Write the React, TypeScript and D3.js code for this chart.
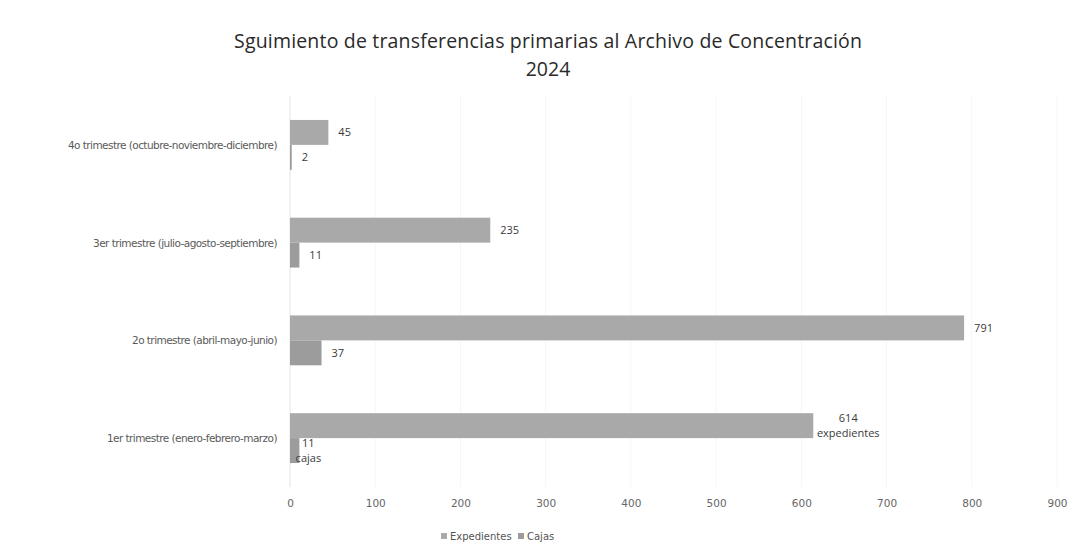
import * as d3 from "d3";
import { useEffect, useRef } from "react";

const categories = [
  "4o trimestre (octubre-noviembre-diciembre)",
  "3er trimestre (julio-agosto-septiembre)",
  "2o trimestre (abril-mayo-junio)",
  "1er trimestre (enero-febrero-marzo)",
];
const expedientes = [45, 235, 791, 614];
const cajas = [2, 11, 37, 11];
const seriesNames = ["Expedientes", "Cajas"];
// the first quarter also shows the series name under its value
const nameLabelCategory = "1er trimestre (enero-febrero-marzo)";
const xTicks = [0, 100, 200, 300, 400, 500, 600, 700, 800, 900];

export default function App() {
  const svgRef = useRef<SVGSVGElement | null>(null);

  useEffect(() => {
    if (!svgRef.current) return;
    const svg = d3.select(svgRef.current);
    svg.selectAll("*").remove();

    const width = 1074;
    const height = 554;
    const left = 290;
    const right = 1057;
    const top = 96;
    const bottom = 487;
    const colors = ["#a9a9a9", "#9c9c9c"];
    const textFont = "'DejaVu Sans', sans-serif";
    const labelFont = "'Open Sans', 'Noto Sans', sans-serif";

    svg.attr("viewBox", `0 0 ${width} ${height}`);
    svg.append("rect").attr("width", width).attr("height", height).attr("fill", "#fff");

    const x = d3.scaleLinear().domain([0, 900]).range([left, right]);
    const y = d3
      .scaleBand<string>()
      .domain(categories)
      .range([top, bottom])
      .paddingInner(0.49)
      .paddingOuter(0.245);
    const ySub = d3
      .scaleBand<string>()
      .domain(seriesNames)
      .range([0, y.bandwidth()]);

    // faint gridlines
    svg
      .append("g")
      .selectAll("line")
      .data(xTicks)
      .join("line")
      .attr("x1", (d) => x(d))
      .attr("x2", (d) => x(d))
      .attr("y1", top)
      .attr("y2", bottom)
      .attr("stroke", "#f6f6f6")
      .attr("stroke-width", 1);

    svg
      .append("line")
      .attr("x1", left)
      .attr("x2", left)
      .attr("y1", top)
      .attr("y2", bottom)
      .attr("stroke", "#e8e8e8");

    // title
    const title = svg
      .append("text")
      .attr("x", 548)
      .attr("text-anchor", "middle")
      .attr("font-family", labelFont)
      .attr("font-size", 19.5)
      .attr("fill", "#2a2a2a");
    title
      .append("tspan")
      .attr("x", 548)
      .attr("y", 48)
      .attr("textLength", 628)
      .text("Sguimiento de transferencias primarias al Archivo de Concentración");
    title.append("tspan").attr("x", 548).attr("y", 76).text("2024");

    const rows = categories.map((c, i) => ({ cat: c, values: [expedientes[i], cajas[i]] }));

    const groups = svg
      .append("g")
      .selectAll("g")
      .data(rows)
      .join("g")
      .attr("transform", (d) => `translate(0,${y(d.cat)})`);

    groups
      .selectAll("rect")
      .data((d) => d.values.map((v, j) => ({ v, s: seriesNames[j], j })))
      .join("rect")
      .attr("x", x(0))
      .attr("y", (d) => ySub(d.s)!)
      .attr("width", (d) => Math.max(1, x(d.v) - x(0)))
      .attr("height", ySub.bandwidth())
      .attr("fill", (d) => colors[d.j]);

    // value labels
    rows.forEach((r) => {
      const g = svg.append("g").attr("transform", `translate(0,${y(r.cat)})`);
      r.values.forEach((v, j) => {
        const s = seriesNames[j];
        const cy = ySub(s)! + ySub.bandwidth() / 2;
        if (r.cat === nameLabelCategory) {
          const cx = j === 0 ? x(v) + 35 : x(v) + 9;
          const t = g
            .append("text")
            .attr("text-anchor", "middle")
            .attr("font-family", labelFont)
            .attr("font-size", 11)
            .attr("fill", "#3a3a3a");
          t.append("tspan").attr("x", cx).attr("y", cy - 4).text(String(v));
          t.append("tspan").attr("x", cx).attr("y", cy + 11).text(s.toLowerCase());
        } else {
          g.append("text")
            .attr("x", x(v) + 10)
            .attr("y", cy + 4)
            .attr("font-family", labelFont)
            .attr("font-size", 11)
            .attr("fill", "#3a3a3a")
            .text(String(v));
        }
      });
    });

    // category axis labels
    svg
      .append("g")
      .selectAll("text")
      .data(categories)
      .join("text")
      .attr("x", 277)
      .attr("y", (d) => y(d)! + y.bandwidth() / 2 + 4)
      .attr("text-anchor", "end")
      .attr("font-family", textFont)
      .attr("font-size", 10.5)
      .attr("letter-spacing", -0.55)
      .attr("fill", "#5a5a5a")
      .text((d) => d);

    // x axis tick labels
    const xAxis = d3.axisBottom(x).tickValues(xTicks).tickSize(0).tickPadding(13);
    const xg = svg
      .append("g")
      .attr("transform", `translate(0,${bottom})`)
      .call(xAxis as any);
    xg.select(".domain").remove();
    xg.selectAll("text")
      .attr("font-family", textFont)
      .attr("font-size", 10.5)
      .attr("fill", "#666");

    // legend
    const legend = svg.append("g").attr("transform", "translate(441,537)");
    const legendX = [0, 77];
    seriesNames.forEach((s, j) => {
      legend
        .append("rect")
        .attr("x", legendX[j])
        .attr("y", -4)
        .attr("width", 6)
        .attr("height", 6)
        .attr("fill", colors[j]);
      legend
        .append("text")
        .attr("x", legendX[j] + 9)
        .attr("y", 3)
        .attr("font-family", textFont)
        .attr("font-size", 10)
        .attr("fill", "#555")
        .text(s);
    });
  }, []);

  return (
    <div style={{ position: "fixed", left: 0, top: 0 }}>
      <svg ref={svgRef} width={1074} height={554} style={{ display: "block" }} />
    </div>
  );
}
